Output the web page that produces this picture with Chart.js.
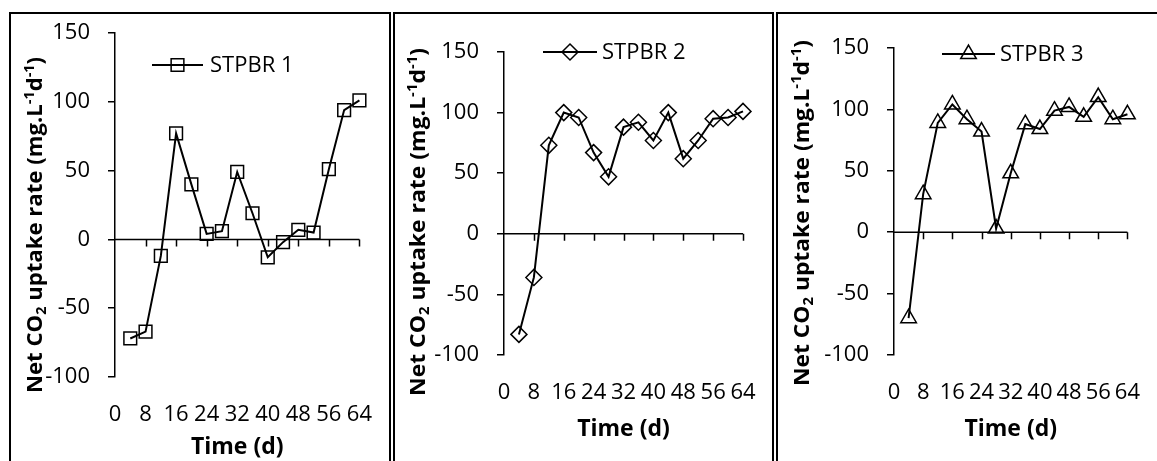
<!DOCTYPE html>
<html>
<head>
<meta charset="utf-8">
<title>Net CO2 uptake rate</title>
<script src="https://cdn.jsdelivr.net/npm/chart.js@4.4.1/dist/chart.umd.min.js"></script>
<style>
  body { margin: 0; background: #fff; width: 1157px; height: 461px; overflow: hidden; position: relative; }
  .panel { position: absolute; top: 12px; height: 470px; border: 2px solid #000; box-sizing: border-box; }
  canvas { position: absolute; top: 0; }
</style>
</head>
<body>
<div class="panel" style="left:9px;width:382px"></div>
<div class="panel" style="left:393px;width:381px"></div>
<div class="panel" style="left:776px;width:400px"></div>
<canvas id="c1" width="380" height="461" style="left:9px"></canvas>
<canvas id="c2" width="380" height="461" style="left:393px"></canvas>
<canvas id="c3" width="381" height="461" style="left:776px"></canvas>
<script>
// data
const days = [4, 8, 12, 16, 20, 24, 28, 32, 36, 40, 44, 48, 52, 56, 60, 64];
const seriesNames = ['STPBR 1', 'STPBR 2', 'STPBR 3'];
const stpbr1 = [-72, -67, -12, 77, 40, 4, 6, 49, 19, -13, -2, 7, 5, 51, 94, 101];
const stpbr2 = [-83, -36, 73, 100, 96, 67, 47, 88, 92, 77, 100, 62, 77, 95, 96, 101];
const stpbr3 = [-70, 31, 89, 104, 92, 82, 3, 48, 88, 84, 99, 102, 94, 110, 92, 96];
const xMin = 0, xMax = 64, xStep = 8;
const yMin = -100, yMax = 150, yStep = 50;
const xTitle = 'Time (d)';
// y title pieces: [text, kind]
const yTitle = [['Net CO', ''], ['2', 'sub'], [' uptake rate (mg.L', ''], ['-1', 'sup'], ['d', ''], ['-1', 'sup'], [')', '']];

const FONT = '"Open Sans", "Liberation Sans", sans-serif';

// layout of each panel (canvas pixels)
const panels = [
  { id: 'c1', values: stpbr1, name: seriesNames[0], marker: 'rect', radius: 9,
    yWidth: 106, padTop: 33, padRight: 29, xHeight: 84, xTitlePad: 0,
    legend: { x1: 143, x2: 194, y: 65, tx: 201 }, title: { x: 25, y: 225, len: 336 } },
  { id: 'c2', values: stpbr2, name: seriesNames[1], marker: 'rectRot', radius: 8,
    yWidth: 111, padTop: 52, padRight: 30, xHeight: 106, xTitlePad: 18,
    legend: { x1: 150, x2: 204, y: 52, tx: 209 }, title: { x: 24, y: 222, len: 348 } },
  { id: 'c3', values: stpbr3, name: seriesNames[2], marker: 'triangle', radius: 9,
    yWidth: 118, padTop: 48, padRight: 17, xHeight: 106, xTitlePad: 18,
    legend: { x1: 166, x2: 219, y: 54, tx: 224 }, title: { x: 25, y: 213, len: 346 } }
];

function drawMarker(ctx, style, r, x, y) {
  ctx.beginPath();
  if (style === 'rect') {
    const s = Math.SQRT1_2 * r;
    ctx.rect(x - s, y - s, 2 * s, 2 * s);
  } else if (style === 'rectRot') {
    ctx.moveTo(x, y - r); ctx.lineTo(x + r, y); ctx.lineTo(x, y + r); ctx.lineTo(x - r, y); ctx.closePath();
  } else {
    for (let i = 0; i < 3; i++) {
      const a = i * 2 * Math.PI / 3;
      const px = x + Math.sin(a) * r, py = y - Math.cos(a) * r;
      if (i === 0) ctx.moveTo(px, py); else ctx.lineTo(px, py);
    }
    ctx.closePath();
  }
  ctx.stroke();
}

const decor = {
  id: 'decor',
  beforeDatasetsDraw(chart) {
    const ctx = chart.ctx;
    const xs = chart.scales.x, ys = chart.scales.y;
    const y0 = ys.getPixelForValue(0);
    ctx.save();
    ctx.strokeStyle = '#000';
    ctx.lineWidth = 1.5;
    ctx.beginPath();
    ctx.moveTo(xs.getPixelForValue(xMin), y0);
    ctx.lineTo(xs.getPixelForValue(xMax), y0);
    for (let v = xMin + xStep; v <= xMax; v += xStep) {
      const px = Math.round(xs.getPixelForValue(v)) + 0.5;
      ctx.moveTo(px, y0);
      ctx.lineTo(px, y0 + 7);
    }
    ctx.stroke();
    ctx.restore();
  },
  afterDraw(chart) {
    const p = chart.options.plugins.decor;
    const ctx = chart.ctx;
    ctx.save();
    // legend
    ctx.strokeStyle = '#000';
    ctx.lineWidth = 2;
    ctx.beginPath();
    ctx.moveTo(p.legend.x1, p.legend.y);
    ctx.lineTo(p.legend.x2, p.legend.y);
    ctx.stroke();
    ctx.lineWidth = 1.5;
    drawMarker(ctx, p.marker, p.radius, (p.legend.x1 + p.legend.x2) / 2, p.legend.y);
    ctx.fillStyle = '#000';
    ctx.font = '22px ' + FONT;
    ctx.textBaseline = 'middle';
    ctx.textAlign = 'left';
    ctx.fillText(chart.data.datasets[0].label, p.legend.tx, p.legend.y + 1);

    // rotated y title with sub/superscripts, squeezed along its length to fit
    const size = 21;
    let len = 0;
    yTitle.forEach(([t, k]) => {
      ctx.font = 'bold ' + (k ? size * 0.65 : size) + 'px ' + FONT;
      len += ctx.measureText(t).width;
    });
    ctx.translate(p.title.x, p.title.y);
    ctx.rotate(-Math.PI / 2);
    ctx.scale(p.title.len / len, 1);
    ctx.textBaseline = 'alphabetic';
    let cx = -len / 2;
    const baseY = size * 0.36;
    yTitle.forEach(([t, k]) => {
      const s = k ? size * 0.65 : size;
      ctx.font = 'bold ' + s + 'px ' + FONT;
      let dy = 0;
      if (k === 'sub') dy = size * 0.22;
      if (k === 'sup') dy = -size * 0.38;
      ctx.fillText(t, cx, baseY + dy);
      cx += ctx.measureText(t).width;
    });
    ctx.restore();
  }
};

panels.forEach(p => {
  new Chart(document.getElementById(p.id), {
    type: 'line',
    data: {
      datasets: [{
        label: p.name,
        data: days.map((d, i) => ({ x: d, y: p.values[i] })),
        borderColor: '#000',
        borderWidth: 2,
        tension: 0,
        clip: false,
        pointStyle: p.marker,
        pointRadius: p.radius,
        pointBorderWidth: 1.5,
        pointBorderColor: '#000',
        pointBackgroundColor: 'rgba(255,255,255,0)'
      }]
    },
    options: {
      responsive: false,
      animation: false,
      devicePixelRatio: 1,
      layout: { padding: { left: 0, top: p.padTop, right: p.padRight, bottom: 0 } },
      plugins: {
        legend: { display: false },
        tooltip: { enabled: false },
        decor: p
      },
      scales: {
        x: {
          type: 'linear',
          min: xMin, max: xMax,
          grid: { display: false },
          border: { display: false },
          ticks: { stepSize: xStep, autoSkip: false, maxRotation: 0, padding: 17, color: '#000', font: { family: FONT, size: 22 } },
          title: { display: true, text: xTitle, color: '#000', font: { family: FONT, size: 23, weight: 'bold' }, padding: { top: 0, bottom: p.xTitlePad } },
          afterFit: (s) => { s.height = p.xHeight; }
        },
        y: {
          min: yMin, max: yMax,
          grid: { drawOnChartArea: false, drawTicks: true, tickLength: 7, color: '#000', lineWidth: 1.5 },
          border: { display: true, color: '#000', width: 1.5 },
          ticks: { stepSize: yStep, padding: 18, color: '#000', font: { family: FONT, size: 22 } },
          afterFit: (s) => { s.width = p.yWidth; }
        }
      }
    },
    plugins: [decor]
  });
});
</script>
</body>
</html>
